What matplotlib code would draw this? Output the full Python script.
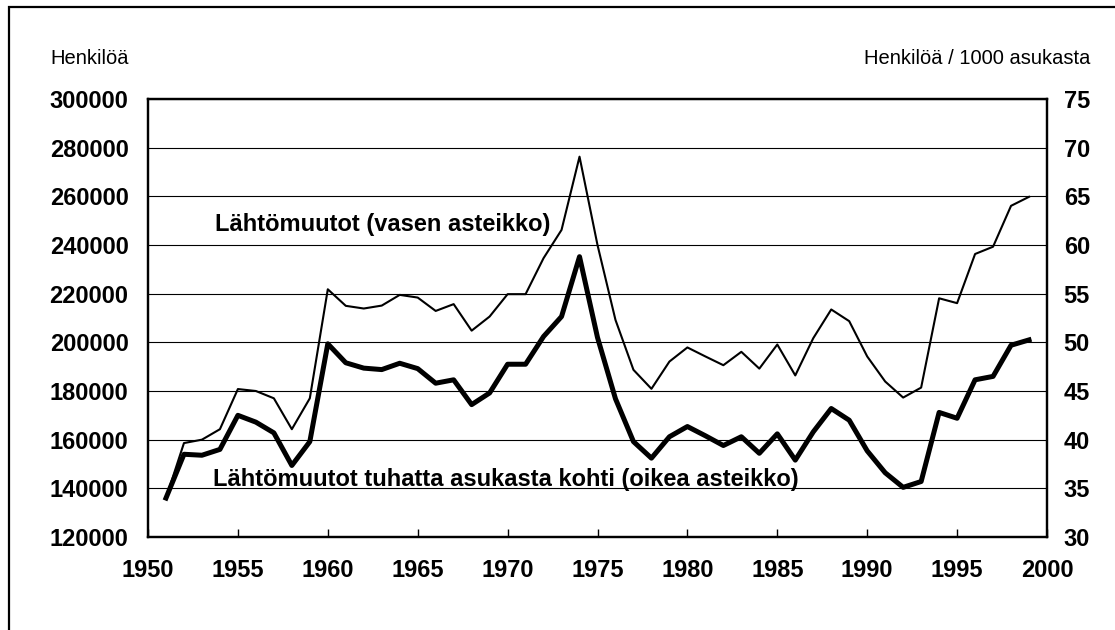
import numpy as np
import matplotlib
matplotlib.use("Agg")
import matplotlib.pyplot as plt
from matplotlib.patches import Rectangle

plt.rcParams["font.family"] = ["Liberation Sans", "DejaVu Sans"]

years = list(range(1951, 2000))

# Lähtömuutot, henkilöä (vasen asteikko)
departures = [
    136000, 158600, 160000, 164300, 180800, 180000, 177000, 164300, 177000, 221800,
    215000, 213900, 215100, 219500, 218400, 212900, 215700, 204800, 210600, 219800,
    219800, 234600, 246200, 276300, 240000, 209200, 188700, 180900, 192100, 197900,
    194200, 190600, 196100, 189200, 199100, 186400, 201700, 213500, 208700, 194200,
    183900, 177300, 181400, 218100, 216100, 236300, 239300, 256100, 259800,
]

# Lähtömuutot / 1000 asukasta (oikea asteikko)
departures_per_1000 = [
    34.0, 38.5, 38.4, 39.0, 42.5, 41.8, 40.7, 37.35, 39.8, 49.85,
    47.9, 47.35, 47.2, 47.85, 47.3, 45.8, 46.15, 43.6, 44.8, 47.75,
    47.75, 50.6, 52.65, 58.8, 50.5, 44.2, 39.8, 38.1, 40.3, 41.35,
    40.4, 39.4, 40.3, 38.6, 40.6, 37.9, 40.8, 43.2, 42.0, 38.85,
    36.6, 35.1, 35.7, 42.8, 42.2, 46.15, 46.5, 49.7, 50.25,
]

left_ticks = list(range(120000, 300001, 20000))
right_ticks = list(range(30, 76, 5))
x_ticks = list(range(1950, 2001, 5))

W, H = 1115, 630


def main():
    fig = plt.figure(figsize=(W / 100, H / 100), dpi=100)
    ax = fig.add_axes([148 / W, 1 - 537 / H, (1047 - 148) / W, (537 - 99) / H])

    # outer frame (cut at right and bottom like the original)
    fig.patches.append(Rectangle((9 / W, -0.1), 1.2, 1.1 - 7 / H, transform=fig.transFigure,
                                 fill=False, edgecolor="black", linewidth=1.6))

    ax.plot(years, departures, color="black", linewidth=1.5, zorder=3)
    ax.set_xlim(1950, 2000)
    ax.set_ylim(120000, 300000)
    ax.set_yticks(left_ticks)
    ax.set_xticks(x_ticks)
    ax.grid(axis="y", color="black", linewidth=0.8)
    ax.set_axisbelow(True)

    ax2 = ax.twinx()
    ax2.plot(years, departures_per_1000, color="black", linewidth=3.6, zorder=3)
    ax2.set_ylim(30, 75)
    ax2.set_yticks(right_ticks)

    for a in (ax, ax2):
        for s in a.spines.values():
            s.set_linewidth(1.6)
    ax.tick_params(axis="y", length=0, pad=14, labelsize=17)
    ax2.tick_params(axis="y", length=0, pad=12, labelsize=17)
    ax.tick_params(axis="x", direction="in", length=6, width=1, pad=16, labelsize=17)
    for lab in ax.get_xticklabels() + ax.get_yticklabels() + ax2.get_yticklabels():
        lab.set_fontweight("bold")

    fig.text(50 / W, 1 - 58 / H, "Henkilöä", fontsize=14.5, va="center", ha="left")
    fig.text(1090 / W, 1 - 58 / H, "Henkilöä / 1000 asukasta", fontsize=14.5, va="center", ha="right")

    fig.text(215 / W, 1 - 231 / H, "Lähtömuutot (vasen asteikko)", fontsize=17,
             fontweight="bold", va="baseline", ha="left")
    fig.text(213 / W, 1 - 486 / H, "Lähtömuutot tuhatta asukasta kohti (oikea asteikko)", fontsize=17,
             fontweight="bold", va="baseline", ha="left")

    fig.savefig("out.png", dpi=100)
    plt.close(fig)


if __name__ == "__main__":
    main()
